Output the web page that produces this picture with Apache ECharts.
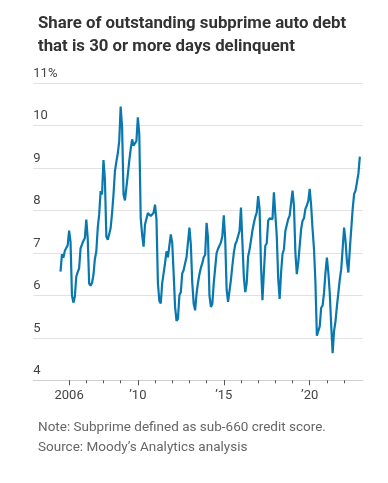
<!DOCTYPE html>
<html><head><meta charset="utf-8">
<script src="https://cdn.jsdelivr.net/npm/echarts@6/dist/echarts.min.js"></script>
<style>html,body{margin:0;padding:0;background:#fff}#c{width:388px;height:483px}</style>
</head><body><div id="c"></div>
<script>
// Monthly axis spans Dec 2003 .. Feb 2023; data runs Jul 2005 .. Dec 2022
const axisStart = [2003, 12];
const axisEnd = [2023, 2];
const dataStart = [2005, 7];
// Share delinquent (%) by month
const v2005 = [6.56, 6.97, 6.89, 7.05, 7.12, 7.18]; // Jul-Dec
const v2006 = [7.53, 7.27, 6.00, 5.83, 5.97, 6.44, 6.55, 6.64, 7.11, 7.15, 7.29, 7.35];
const v2007 = [7.79, 7.35, 6.28, 6.23, 6.30, 6.48, 6.86, 7.04, 7.59, 7.91, 8.46, 8.38];
const v2008 = [9.19, 8.74, 7.39, 7.31, 7.45, 7.59, 7.94, 8.38, 8.93, 9.15, 9.35, 9.64];
const v2009 = [10.45, 9.96, 8.38, 8.24, 8.21, 8.85, 9.17, 9.45, 9.68, 9.53, 9.53, 9.64];
const v2010 = [10.20, 9.80, 7.83, 7.43, 7.15, 7.67, 7.71, 7.94, 7.98, 7.87, 7.91, 7.95];
const v2011 = [8.14, 7.80, 6.30, 5.87, 5.81, 6.29, 6.33, 6.76, 7.04, 6.90, 6.94, 7.44];
const v2012 = [7.24, 6.52, 5.73, 5.40, 5.45, 6.00, 6.08, 6.52, 6.60, 6.76, 6.90, 6.94];
const v2013 = [7.60, 7.20, 6.30, 5.80, 5.65, 6.05, 6.30, 6.50, 6.65, 6.76, 6.90, 6.96];
const v2014 = [7.71, 7.35, 6.00, 5.73, 5.80, 6.29, 6.65, 7.00, 7.10, 7.08, 7.25, 7.40];
const v2015 = [7.89, 7.32, 6.13, 5.85, 5.83, 6.37, 6.70, 7.00, 7.20, 7.28, 7.40, 7.52];
const v2016 = [8.07, 8.03, 6.44, 6.08, 6.29, 6.92, 7.08, 7.30, 7.53, 7.70, 7.85, 7.95];
const v2017 = [8.34, 8.04, 6.70, 5.89, 6.54, 7.17, 7.23, 7.76, 7.82, 7.78, 7.80, 8.43];
const v2018 = [8.45, 7.40, 6.40, 5.92, 6.54, 6.97, 7.09, 7.52, 7.56, 7.80, 7.88, 7.88];
const v2019 = [8.47, 8.12, 7.01, 6.50, 6.77, 7.17, 7.56, 7.76, 7.82, 8.04, 8.12, 8.23];
const v2020 = [8.51, 8.12, 7.56, 7.09, 6.30, 5.05, 5.08, 5.27, 5.71, 5.76, 6.06, 6.54];
const v2021 = [6.89, 6.54, 6.06, 5.30, 4.64, 5.16, 5.39, 5.75, 6.06, 6.38, 6.62, 7.10];
const v2022 = [7.60, 7.29, 6.80, 6.54, 7.09, 7.56, 8.04, 8.39, 8.47, 8.47, 8.87, 9.27];
const yTicks = [4, 5, 6, 7, 8, 9, 10, 11];
const xTickYears = [2006, 2022];
const xLabels = {2006: '2006', 2010: '\u201910', 2015: '\u201915', 2020: '\u201920'};

const values = [].concat(v2005, v2006, v2007, v2008, v2009, v2010, v2011, v2012, v2013,
  v2014, v2015, v2016, v2017, v2018, v2019, v2020, v2021, v2022);
const pad = n => (n < 10 ? '0' : '') + n;
const cats = [];
for (let y = axisStart[0], m = axisStart[1]; y < axisEnd[0] || (y === axisEnd[0] && m <= axisEnd[1]);) {
  cats.push(y + '-' + pad(m));
  m++; if (m > 12) { m = 1; y++; }
}
const startKey = dataStart[0] + '-' + pad(dataStart[1]);
const startIdx = cats.indexOf(startKey);
const seriesData = cats.map((c, i) => {
  const j = i - startIdx;
  return (j >= 0 && j < values.length) ? values[j] : null;
});
const yearOf = v => parseInt(v.slice(0, 4), 10);
const isJan = v => v.slice(5) === '01';
const minorTick = (i, v) => isJan(v) && yearOf(v) >= xTickYears[0] && yearOf(v) <= xTickYears[1];
const majorTick = (i, v) => isJan(v) && xLabels[yearOf(v)] !== undefined;

const font = "Roboto, 'Liberation Sans', sans-serif";
const chart = echarts.init(document.getElementById('c'), null, {renderer: 'canvas'});
chart.setOption({
  animation: false,
  title: [{
    text: 'Share of outstanding subprime auto debt\nthat is 30 or more days delinquent',
    left: 33, top: 7,
    textStyle: {fontFamily: font, fontWeight: 'bold', fontSize: 16.8, lineHeight: 23, color: '#333'}
  }, {
    text: 'Note: Subprime defined as sub-660 credit score.\nSource: Moody\u2019s Analytics analysis',
    left: 33, top: 413,
    textStyle: {fontFamily: font, fontWeight: 'normal', fontSize: 13.5, lineHeight: 20, color: '#666'}
  }],
  grid: {left: 33.3, right: 25.3, top: 83.3, bottom: 102.7, containLabel: false},
  xAxis: [{
    type: 'category', data: cats, boundaryGap: false,
    axisLine: {show: true, lineStyle: {color: '#d0d0d0', width: 1}},
    axisTick: {show: true, interval: minorTick, length: 3, lineStyle: {color: '#555'}},
    axisLabel: {show: true, interval: majorTick, formatter: v => xLabels[yearOf(v)] || '',
      fontFamily: font, fontSize: 13, color: '#444', margin: 9},
    splitLine: {show: false}
  }, {
    type: 'category', data: cats, boundaryGap: false, position: 'bottom',
    axisLine: {show: false},
    axisTick: {show: true, interval: majorTick, length: 5, lineStyle: {color: '#555'}},
    axisLabel: {show: false}, splitLine: {show: false}
  }],
  yAxis: {
    type: 'value', min: yTicks[0], max: yTicks[yTicks.length - 1], interval: 1,
    axisLine: {show: false}, axisTick: {show: false},
    splitLine: {show: true, lineStyle: {color: '#e2e2e2', width: 1}},
    axisLabel: {inside: true, margin: 0, align: 'left', verticalAlign: 'bottom',
      padding: [0, 0, 3, 0],
      formatter: v => v === yTicks[yTicks.length - 1] ? v + '%' : String(v),
      fontFamily: font, fontSize: 13, color: '#444'}
  },
  series: [{
    type: 'line', data: seriesData, xAxisIndex: 0, showSymbol: false,
    connectNulls: false, lineStyle: {color: '#0878ae', width: 2.2}, itemStyle: {color: '#0878ae'}
  }]
});
</script></body></html>
